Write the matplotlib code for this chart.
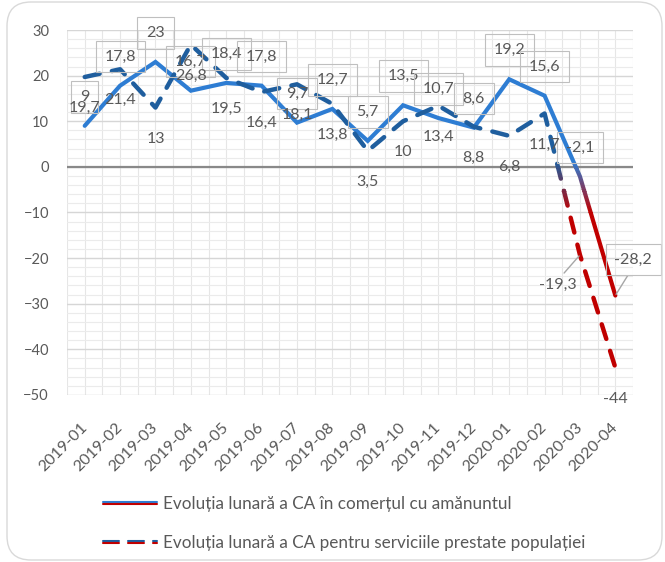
import matplotlib
matplotlib.use('Agg')
import matplotlib.pyplot as plt
import numpy as np
from matplotlib.patches import Rectangle, FancyBboxPatch
from matplotlib.lines import Line2D
from matplotlib.legend_handler import HandlerBase
from matplotlib.transforms import IdentityTransform
from matplotlib.colors import to_rgb

plt.rcParams['font.family'] = ['Lato', 'DejaVu Sans']
plt.rcParams['lines.scale_dashes'] = False

# date
luni = ['2019-01', '2019-02', '2019-03', '2019-04', '2019-05', '2019-06',
        '2019-07', '2019-08', '2019-09', '2019-10', '2019-11', '2019-12',
        '2020-01', '2020-02', '2020-03', '2020-04']
comert = [9, 17.8, 23, 16.7, 18.4, 17.8, 9.7, 12.7, 5.7, 13.5, 10.7, 8.6,
          19.2, 15.6, -2.1, -28.2]
servicii = [19.7, 21.4, 13, 26.8, 19.5, 16.4, 18.1, 13.8, 3.5, 10, 13.4, 8.8,
            6.8, 11.7, -19.3, -44]
y_ticks = [-50, -40, -30, -20, -10, 0, 10, 20, 30]
nume_comert = 'Evoluția lunară a CA în comerțul cu amănuntul'
nume_servicii = 'Evoluția lunară a CA pentru serviciile prestate populației'

blue1 = '#2E7DD3'
blue2 = '#1F5E9E'
red = '#C00000'
txt_col = '#595959'
dash_main = (0, (11, 9))

fig = plt.figure(figsize=(6.65, 5.62), dpi=100)
ax = fig.add_axes([0.1008, 0.2972, 0.8511, 0.6494])

x = np.arange(len(luni))


def grad_line(ax, xs, ys, c_top, c_bot, y_hi=1.0, y_lo=-10.0, n=24, **kw):
    # linie cu gradient albastru -> rosu sub zero, desenata pe benzi
    bounds = [200] + list(np.linspace(y_hi, y_lo, n + 1)) + [-200]
    c1 = np.array(to_rgb(c_top))
    c2 = np.array(to_rgb(c_bot))
    for i in range(len(bounds) - 1):
        top, bot = bounds[i], bounds[i + 1]
        if i == 0:
            col = c1
        elif i == len(bounds) - 2:
            col = c2
        else:
            t = (i - 0.5) / n
            col = c1 + (c2 - c1) * t
        ln, = ax.plot(xs, ys, color=col, **kw)
        clip = Rectangle((-5, bot - 0.02), 30, top - bot + 0.04, transform=ax.transData)
        ln.set_clip_path(clip)


grad_line(ax, x, comert, blue1, red, lw=3.0, solid_capstyle='round',
          solid_joinstyle='miter', zorder=3)
grad_line(ax, x, servicii, blue2, red, lw=3.2, linestyle=dash_main,
          dash_capstyle='round', zorder=4)

ax.axhline(0, color='#898989', lw=1.6, zorder=2)

ax.set_xlim(-0.5, len(luni) - 0.5)
ax.set_ylim(-50, 30)
ax.set_yticks(y_ticks)
ax.set_yticks(np.arange(-50, 31, 2), minor=True)
ax.set_xticks(x)
ax.set_xticks(np.arange(-0.5, len(luni), 1), minor=True)
ax.set_xticklabels(luni, rotation=45, ha='right', va='center', rotation_mode='anchor')
ax.grid(which='major', axis='y', color='#D6D6D6', lw=1.0)
ax.grid(which='minor', axis='y', color='#EBEBEB', lw=0.8)
ax.grid(which='both', axis='x', color='#E6E6E6', lw=0.8)
ax.set_axisbelow(True)
for s in ax.spines.values():
    s.set_visible(False)
ax.tick_params(which='both', length=0, colors=txt_col, labelsize=10.5)
ax.tick_params(axis='y', pad=13)
ax.tick_params(axis='x', pad=22, labelsize=11.5)


def fmt(v):
    return ('%g' % v).replace('.', ',')


box = dict(boxstyle='square,pad=0.55', fc='none', ec='#BFBFBF', lw=0.8)
for i, v in enumerate(comert):
    if i == len(comert) - 1:
        ax.annotate(fmt(v), (x[i], v), xytext=(18, 36), textcoords='offset pixels',
                    ha='center', va='center', fontsize=11.5, color=txt_col, bbox=box,
                    arrowprops=dict(arrowstyle='-', color='#A6A6A6', lw=1,
                                    shrinkA=0, shrinkB=1, relpos=(0.5, 0)),
                    zorder=5)
    else:
        ax.annotate(fmt(v), (x[i], v), xytext=(0, 29), textcoords='offset pixels',
                    ha='center', va='center', fontsize=11.5, color=txt_col, bbox=box,
                    zorder=5)

for i, v in enumerate(servicii):
    if i == len(servicii) - 2:
        ax.annotate(fmt(v), (x[i], v), xytext=(-22, -30), textcoords='offset pixels',
                    ha='center', va='center', fontsize=11.5, color=txt_col,
                    arrowprops=dict(arrowstyle='-', color='#A6A6A6', lw=1,
                                    shrinkA=2, shrinkB=1, relpos=(0.55, 1.0)),
                    zorder=5)
    else:
        ax.annotate(fmt(v), (x[i], v), xytext=(0, -31), textcoords='offset pixels',
                    ha='center', va='center', fontsize=11.5, color=txt_col, zorder=5)


class TwoTone(HandlerBase):
    def __init__(self, dashes=None):
        super().__init__()
        self.dashes = dashes

    def create_artists(self, legend, orig_handle, xdescent, ydescent, width,
                       height, fontsize, trans):
        y = height / 2 - ydescent
        arts = []
        for dy, col in [(0.75, orig_handle.get_color()), (-0.75, red)]:
            l = Line2D([-xdescent + 1, width - xdescent - 1], [y + dy, y + dy],
                       color=col, lw=1.5, solid_capstyle='round',
                       dash_capstyle='round', transform=trans)
            if self.dashes is not None:
                l.set_linestyle(self.dashes)
            arts.append(l)
        return arts


h1 = Line2D([], [], color=blue1)
h2 = Line2D([], [], color=blue2)
fig.legend([h1, h2], [nume_comert, nume_servicii],
           handler_map={h1: TwoTone(), h2: TwoTone((0, (11.5, 6.5)))},
           loc='center', bbox_to_anchor=(0.5165, 0.0685), frameon=False,
           fontsize=12.3, labelcolor=txt_col, handlelength=3.3, handletextpad=0.25,
           labelspacing=1.35)

frame = FancyBboxPatch((7, 2), 655, 558, boxstyle='round,pad=0,rounding_size=24',
                       fc='none', ec='#D9D9D9', lw=1.0, transform=IdentityTransform())
fig.patches.append(frame)

fig.savefig('out.png', dpi=100)
